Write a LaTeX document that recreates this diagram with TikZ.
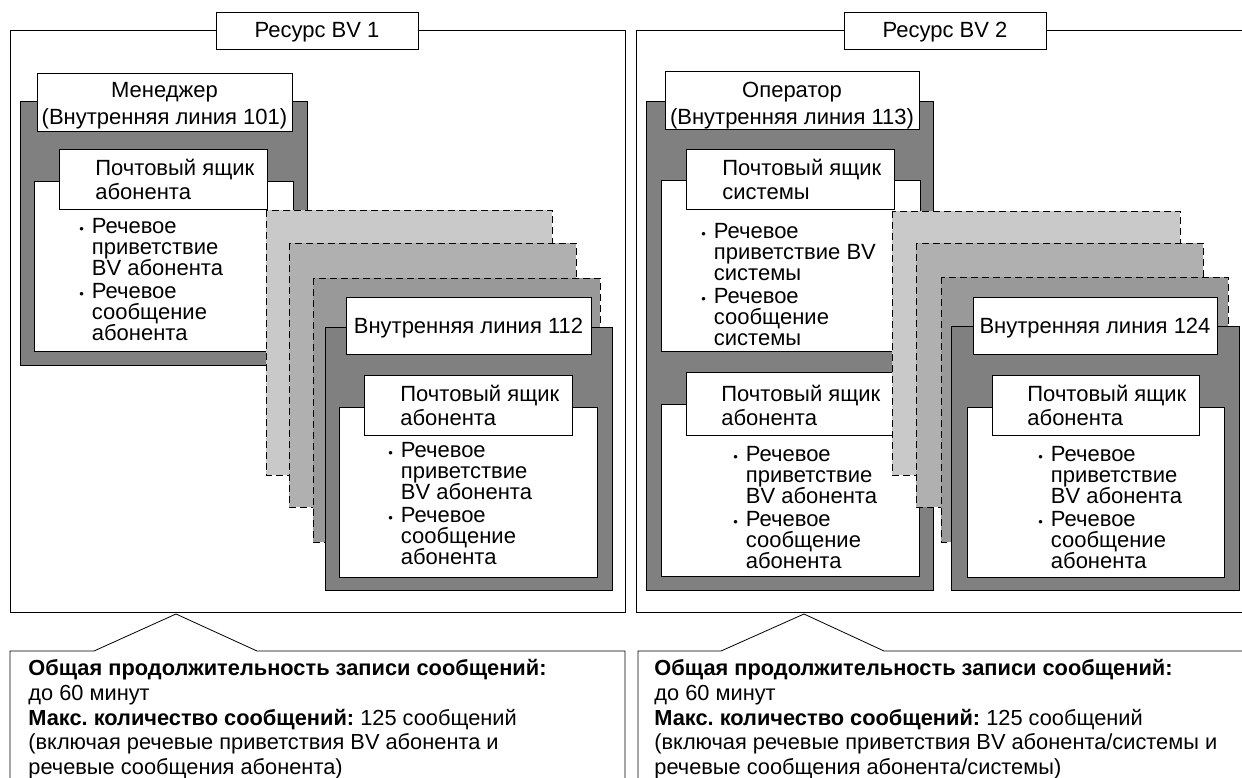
\documentclass[tikz,border=0pt]{standalone}
\usepackage{fontspec}
\setmainfont{Liberation Sans}
\frenchspacing
\definecolor{dk}{gray}{0.5}
\definecolor{ca}{gray}{0.79}
\definecolor{cb}{gray}{0.69}
\definecolor{cc}{gray}{0.6}
\newcommand\fs{\fontsize{22}{21}\selectfont}
\newcommand\bul{\makebox[12.5pt][l]{\fontsize{13}{13}\selectfont\textbullet}}
\newcommand\ind{\hspace*{12.5pt}}
\begin{document}
\begin{tikzpicture}[x=1pt,y=-1pt,
  line width=0.8pt,
  frame/.style={draw=black, fill=white},
  dark/.style={draw=black, fill=dk},
  wbox/.style={draw=black, fill=white},
  card/.style={draw=black, dash pattern=on 7pt off 4pt},
  txt/.style={inner sep=0pt, anchor=north west, align=left, font=\fs},
  lbl/.style={inner sep=0pt, anchor=north, align=center, font=\fontsize{22}{27}\selectfont},
  mtxt/.style={inner sep=0pt, anchor=north west, align=left, font=\fontsize{22}{23.5}\selectfont},
  one/.style={inner sep=0pt, anchor=base, font=\fs},
  note/.style={inner sep=0pt, anchor=north west, align=left, font=\fontsize{21.8}{24.7}\selectfont},
]
\useasboundingbox (0,0) rectangle (1242,778);
\begin{scope}
\clip (0,0) rectangle (1242,778);
\fill[white] (0,0) rectangle (1242,778);

% ================= BV 1 =================
\draw[frame] (10,30) rectangle (625,612);
\draw[wbox] (216,12) rectangle (418,49);
\node[one] (r1) at (317,38) {Ресурс BV 1};

% manager
\draw[dark] (20,101) rectangle (307,365);
\draw[wbox] (37,73) rectangle (292,131);
\node[lbl] (m1) at (164.5,82) {Менеджер\\(Внутренняя линия 101)};
\draw[wbox] (34,181) rectangle (293,351);
\draw[wbox] (59,149) rectangle (267,209);
\node[mtxt] (mb1) at (95,159) {Почтовый ящик\\абонента};
\node[txt] (mi1) at (79,218) {\bul Речевое\\\ind приветствие\\\ind BV абонента\\[2pt]\bul Речевое\\\ind сообщение\\\ind абонента};

% cards
\draw[card, fill=ca] (266,210) rectangle (552,475);
\draw[card, fill=cb] (289,243) rectangle (576,507);
\draw[card, fill=cc] (313,278) rectangle (600,542);
\draw[dark] (325,327) rectangle (612,590);
\draw[wbox] (346,297) rectangle (591,354);
\node[one] (e112) at (468.5,333) {Внутренняя линия 112};
\draw[wbox] (339,407) rectangle (597,577);
\draw[wbox] (364,375) rectangle (572,435);
\node[mtxt] (mb2) at (400,385) {Почтовый ящик\\абонента};
\node[txt] (mi2) at (388,442) {\bul Речевое\\\ind приветствие\\\ind BV абонента\\[2pt]\bul Речевое\\\ind сообщение\\\ind абонента};

% callout 1
\draw[frame] (10,800) -- (10,651) -- (94,651) -- (176,614) -- (257,651) -- (625,651) -- (625,800);
\node[note] (n1) at (28,659) {\textbf{Общая продолжительность записи сообщений:}\\
до 60 минут\\
\textbf{Макс. количество сообщений:} 125 сообщений\\
(включая речевые приветствия BV абонента и\\
речевые сообщения абонента)};

% ================= BV 2 =================
\draw[frame] (636,30) rectangle (1270,612);
\draw[wbox] (844,12) rectangle (1046,49);
\node[one] (r2) at (945,38) {Ресурс BV 2};

% operator
\draw[dark] (646,101) rectangle (933,590);
\draw[wbox] (665,71) rectangle (919,129);
\node[lbl] (o1) at (792,82) {Оператор\\(Внутренняя линия 113)};
\draw[wbox] (661,180) rectangle (920,351);
\draw[wbox] (686,149) rectangle (894,209);
\node[mtxt] (sb1) at (722,159) {Почтовый ящик\\системы};
\node[txt] (si1) at (701,223) {\bul Речевое\\\ind приветствие BV\\\ind системы\\[2pt]\bul Речевое\\\ind сообщение\\\ind системы};
\draw[wbox] (661,404) rectangle (919,576);
\draw[wbox] (686,372) rectangle (894,435);
\node[mtxt] (sb2) at (721,385) {Почтовый ящик\\абонента};
\node[txt] (si2) at (733,446) {\bul Речевое\\\ind приветствие\\\ind BV абонента\\[2pt]\bul Речевое\\\ind сообщение\\\ind абонента};

% cards
\draw[card, fill=ca] (892,211) rectangle (1180,475);
\draw[card, fill=cb] (916,243) rectangle (1203,507);
\draw[card, fill=cc] (941,277) rectangle (1228,542);
\draw[dark] (951,326) rectangle (1239,590);
\draw[wbox] (973,297) rectangle (1217,354);
\node[one] (e124) at (1095,333) {Внутренняя линия 124};
\draw[wbox] (967,407) rectangle (1224,577);
\draw[wbox] (992,375) rectangle (1199,435);
\node[mtxt] (mb3) at (1027,385) {Почтовый ящик\\абонента};
\node[txt] (mi3) at (1038,446) {\bul Речевое\\\ind приветствие\\\ind BV абонента\\[2pt]\bul Речевое\\\ind сообщение\\\ind абонента};

% callout 2
\draw[frame] (638,800) -- (638,651) -- (721,651) -- (804,614) -- (884,651) -- (1270,651);
\node[note] (n2) at (654,659) {\textbf{Общая продолжительность записи сообщений:}\\
до 60 минут\\
\textbf{Макс. количество сообщений:} 125 сообщений\\
(включая речевые приветствия BV абонента/системы и\\
речевые сообщения абонента/системы)};
\end{scope}
\end{tikzpicture}
\end{document}
